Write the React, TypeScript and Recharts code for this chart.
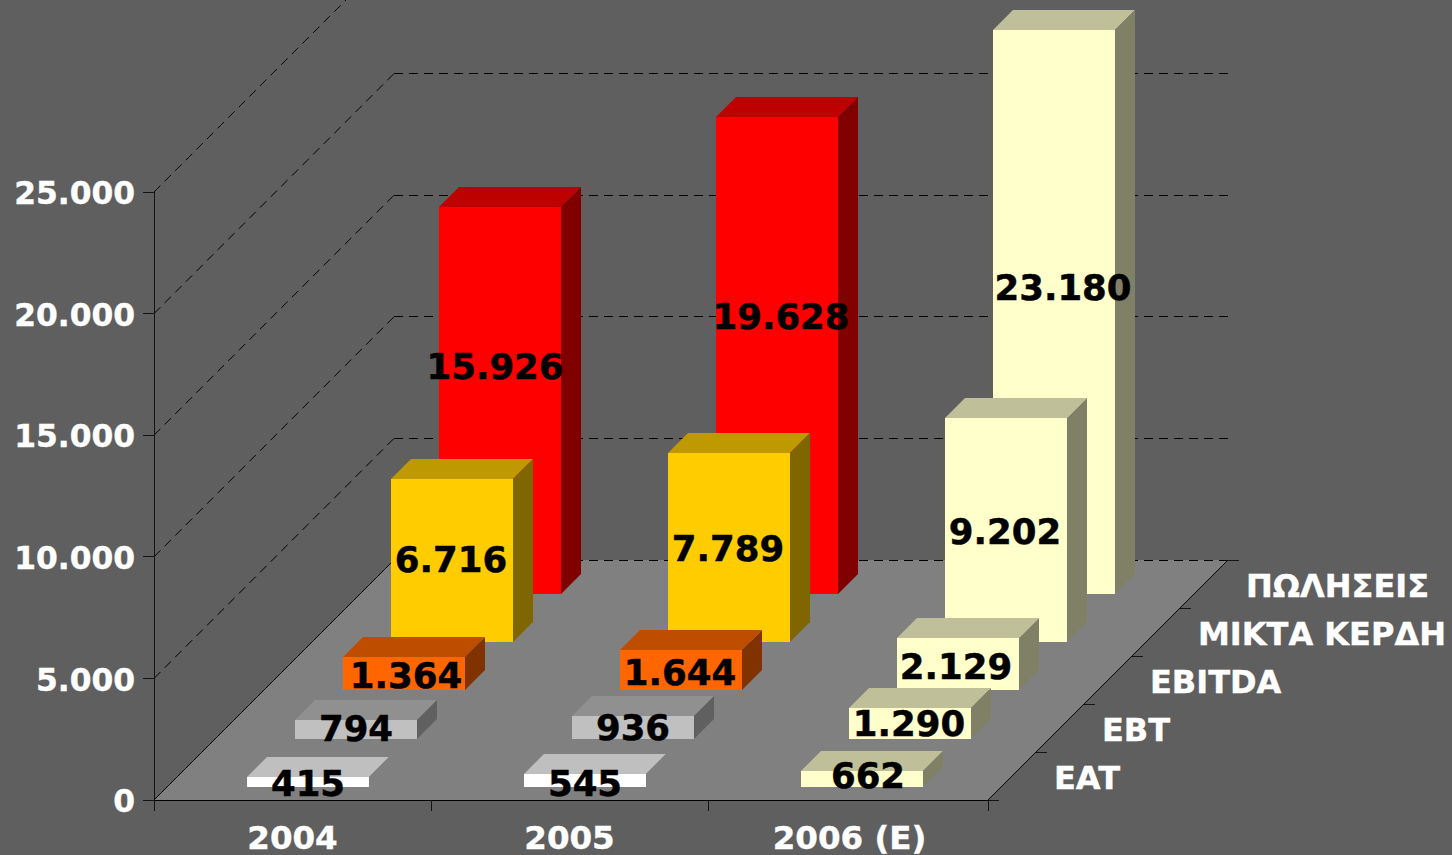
import React from 'react';
import { BarChart, Bar, XAxis, YAxis, CartesianGrid, LabelList } from 'recharts';

const years = ['2004', '2005', '2006 (E)'];
const seriesNames = ['ΠΩΛΗΣΕΙΣ', 'ΜΙΚΤΑ ΚΕΡΔΗ', 'EBITDA', 'EBT', 'EAT'];
const sales = [15926, 19628, 23180];
const gross = [6716, 7789, 9202];
const ebitda = [1364, 1644, 2129];
const ebt = [794, 936, 1290];
const eat = [415, 545, 662];
const yTicks = [0, 5000, 10000, 15000, 20000, 25000];
const seriesColors = ['#FF0000', '#FFCC00', '#FF6600', '#C0C0C0', '#FFFFFF'];
const forecastColor = '#FFFFCC';

const seriesValues = [sales, gross, ebitda, ebt, eat];
const keys = ['sales', 'gross', 'ebitda', 'ebt', 'eat'];
const chartData = years.map((year, i) => {
  const row: any = { year };
  keys.forEach((k, s) => (row[k] = seriesValues[s][i]));
  return row;
});

const FONT = '"DejaVu Sans", Verdana, sans-serif';
const AXIS = '#141414';
const PLOT_LEFT = 154;
const PLOT_RIGHT = 988;
const PLOT_BOTTOM = 800;
const DEPTH = 240;
const STEP = DEPTH / seriesNames.length;
const BOX = 20;
const xTickMarks = [PLOT_LEFT, 431, 708, PLOT_RIGHT];

// the excel data labels were placed by hand, so each one has its own offset [dx, dy]
const labelNudge = [
  [[-5, -34], [4, -39], [9, -25]],
  [[-1, -1], [-1, 1], [-1, 1]],
  [[2, 2], [-1, 2], [-2, 2]],
  [[0, -1], [0, 0], [-1, 0]],
  [[0, 1], [0, 3], [6, -4]],
];

const shade = (hex: string, f: number) => {
  const n = parseInt(hex.slice(1), 16);
  const c = [(n >> 16) & 255, (n >> 8) & 255, n & 255].map((v) => Math.round(v * f));
  return `rgb(${c[0]},${c[1]},${c[2]})`;
};

const fmt = (v: number) => String(v).replace(/\B(?=(\d{3})+$)/g, '.');

// series 0 sits at the back of the floor, series 4 at the front
const shiftX = (s: number) => 15 + STEP * (4 - s);
const shiftY = (s: number) => Math.round(13 + 48.25 * (4 - s));

const Box3D = (props: any) => {
  const { x, y, width, height, index, series } = props;
  const fill = index === 2 ? forecastColor : seriesColors[series];
  const left = Math.round(x + shiftX(series));
  const bottom = Math.round(y + height - shiftY(series));
  const top = Math.round(y - shiftY(series));
  const right = left + Math.round(width);
  const isGrey = fill === '#C0C0C0';
  return (
    <g>
      <polygon
        points={`${left},${top} ${left + BOX},${top - BOX} ${right + BOX},${top - BOX} ${right},${top}`}
        fill={isGrey ? '#909090' : shade(fill, 0.75)}
      />
      <polygon
        points={`${right},${top} ${right + BOX},${top - BOX} ${right + BOX},${bottom - BOX} ${right},${bottom}`}
        fill={isGrey ? '#606060' : shade(fill, 0.5)}
      />
      <rect x={left} y={top} width={right - left} height={bottom - top} fill={fill} shapeRendering="crispEdges" />
    </g>
  );
};

const ValueLabel = (props: any) => {
  const { x, y, width, height, value, index, series } = props;
  const [dx, dy] = labelNudge[series][index];
  return (
    <text
      x={x + shiftX(series) + width / 2 + dx}
      y={y - shiftY(series) + height / 2 + dy}
      dy="0.36em"
      textAnchor="middle"
      fontFamily={FONT}
      fontWeight="bold"
      fontSize={35.5}
      fill="#000"
      stroke="#000"
      strokeWidth={0.5}
    >
      {fmt(value)}
    </text>
  );
};

const YearTick = (props: any) => {
  const { x, payload, index } = props;
  return (
    <text
      x={x + (index === 2 ? 3 : 0)}
      y={837}
      dy="0.36em"
      textAnchor="middle"
      fontFamily={FONT}
      fontWeight="bold"
      fontSize={32.5}
      fill="#fff"
      stroke="#fff"
      strokeWidth={0.4}
    >
      {payload.value}
    </text>
  );
};

// wall gridlines: one horizontal line per y tick, folded back along side and back wall
const WallLine = (props: any) => {
  const { x1, y1 } = props;
  const backX1 = x1 + DEPTH;
  const backX2 = PLOT_RIGHT + DEPTH;
  const backY = y1 - DEPTH;
  if (y1 >= PLOT_BOTTOM - 1) {
    return (
      <g>
        <polygon points={`${x1},${y1} ${PLOT_RIGHT},${y1} ${backX2},${backY} ${backX1},${backY}`} fill="#808080" />
        <path d={`M${x1},${y1} L${backX1},${backY}`} stroke="#000" fill="none" />
        <path d={`M${PLOT_RIGHT},${y1} L${backX2},${backY}`} stroke="#000" fill="none" />
        <path d={`M${x1},${y1} H${PLOT_RIGHT}`} stroke="#000" fill="none" shapeRendering="crispEdges" />
        <path d={`M${backX1},${backY} H${backX2}`} stroke="#000" strokeDasharray="9 6" fill="none" shapeRendering="crispEdges" />
      </g>
    );
  }
  return (
    <g>
      <path d={`M${x1},${y1} L${backX1},${backY}`} stroke="#000" strokeDasharray="9 6" fill="none" />
      <path d={`M${backX1},${backY} H${backX2}`} stroke="#000" strokeDasharray="9 6" fill="none" shapeRendering="crispEdges" />
    </g>
  );
};

export default function App() {
  return (
    <div style={{ position: 'absolute', left: 0, top: 0, width: 1452, height: 855, background: '#5F5F5F', overflow: 'hidden' }}>
      <BarChart
        width={1452}
        height={855}
        data={chartData}
        margin={{ top: 192, right: 467, bottom: 0, left: 0 }}
        barSize={122}
        barGap={-122}
      >
        <CartesianGrid vertical={false} horizontal={WallLine as any} stroke="#000" />
        <XAxis
          dataKey="year"
          height={55}
          axisLine={false}
          tickLine={false}
          tickMargin={0}
          interval={0}
          tick={(p: any) => <YearTick {...p} />}
        />
        <YAxis
          width={154}
          domain={[0, 25000]}
          ticks={yTicks}
          interval={0}
          tickFormatter={fmt}
          tickSize={11}
          tickMargin={8}
          axisLine={{ stroke: AXIS, shapeRendering: 'crispEdges' }}
          tickLine={{ stroke: AXIS, shapeRendering: 'crispEdges' }}
          tick={{ fontFamily: FONT, fontWeight: 'bold', fontSize: 31.3, fill: '#fff', stroke: '#fff', strokeWidth: 0.4, dy: 1 }}
        />
        {keys.map((k, s) => (
          <Bar
            key={k}
            dataKey={k}
            isAnimationActive={false}
            shape={(p: any) => <Box3D {...p} series={s} />}
          >
            <LabelList dataKey={k} content={(p: any) => <ValueLabel {...p} series={s} />} />
          </Bar>
        ))}
        <g>
          {xTickMarks.map((tx) => (
            <line key={tx} x1={tx} x2={tx} y1={PLOT_BOTTOM} y2={PLOT_BOTTOM + 11} stroke={AXIS} shapeRendering="crispEdges" />
          ))}
          {seriesNames.map((name, s) => {
            const d = 4 - s;
            return (
              <g key={name}>
                <line
                  x1={PLOT_RIGHT + STEP * (d + 1)}
                  x2={PLOT_RIGHT + STEP * (d + 1) + 11}
                  y1={PLOT_BOTTOM - STEP * (d + 1)}
                  y2={PLOT_BOTTOM - STEP * (d + 1)}
                  stroke={AXIS}
                  shapeRendering="crispEdges"
                />
                <text
                  x={1054 + STEP * d}
                  y={777 - STEP * d}
                  dy="0.36em"
                  fontFamily={FONT}
                  fontWeight="bold"
                  fontSize={32}
                  fill="#fff"
                  stroke="#fff"
                  strokeWidth={0.4}
                >
                  {name}
                </text>
              </g>
            );
          })}
          <line x1={PLOT_RIGHT} x2={PLOT_RIGHT + 11} y1={PLOT_BOTTOM} y2={PLOT_BOTTOM} stroke={AXIS} shapeRendering="crispEdges" />
        </g>
      </BarChart>
    </div>
  );
}
